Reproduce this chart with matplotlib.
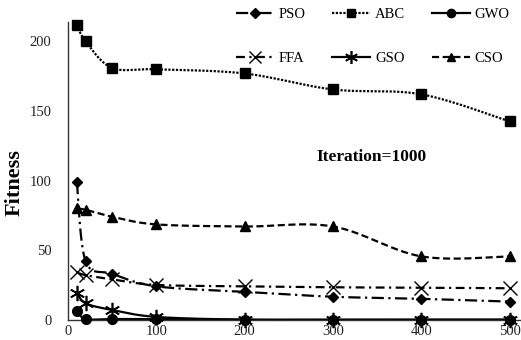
import numpy as np
import matplotlib
matplotlib.use("Agg")
import matplotlib.pyplot as plt
from matplotlib.lines import Line2D

# ---- data ----
iterations = [10, 20, 50, 100, 200, 300, 400, 500]
pso = [99, 42, 33, 24, 20, 16.5, 15, 13]
abc = [212, 200, 181, 180, 177, 165.5, 162, 142.5]
gwo = [6.5, 0.5, 0.5, 0.5, 0, 0, 0, 0]
ffa = [34, 32, 29, 25, 24, 23.3, 23, 22.6]
gso = [19.5, 11.8, 7, 2, 0, 0, 0, 0]
cso = [80, 79, 74, 68.5, 67, 67, 45.5, 45.5]
series_names = ["PSO", "ABC", "GWO", "FFA", "GSO", "CSO"]
y_ticks = [0, 50, 100, 150, 200]
x_ticks = [0, 100, 200, 300, 400, 500]
annotation = "Iteration=1000"
ylabel = "Fitness"

W, H = 521, 340
fig = plt.figure(figsize=(W / 100, H / 100), dpi=100)
ax = fig.add_axes([68 / W, 1 - 319.7 / H, (523 - 68) / W, (319.7 - 22) / H])
ax.set_xlim(0, 515)
ax.set_ylim(0, 214)

serif = "Liberation Serif"
lw = 1.6
styles = {
    "PSO": dict(ls=(0, (5.5, 2, 1, 2)), marker="D", ms=5.5),
    "ABC": dict(ls=(0, (1, 0.7)), marker="s", ms=7),
    "GWO": dict(ls="-", marker="o", ms=7),
    "FFA": dict(ls=(0, (4, 2, 1, 2)), marker="x", ms=10, mew=1.0),
    "GSO": dict(ls="-", marker=(6, 2, 0), ms=11, mew=1.2),
    "CSO": dict(ls=(0, (3.2, 1.6)), marker="^", ms=6.5),
}
data = {"PSO": pso, "ABC": abc, "GWO": gwo, "FFA": ffa, "GSO": gso, "CSO": cso}

# scale factors approximating screen space for smoothing
sx, sy = 0.884, 1.39


def smooth(xs, ys, n=30):
    P = np.column_stack([np.asarray(xs, float) * sx, np.asarray(ys, float) * sy])
    out = []
    for i in range(len(P) - 1):
        p0 = P[i - 1] if i > 0 else P[i]
        p1, p2 = P[i], P[i + 1]
        p3 = P[i + 2] if i + 2 < len(P) else P[i + 1]
        c1 = p1 + (p2 - p0) / 6
        c2 = p2 - (p3 - p1) / 6
        t = np.linspace(0, 1, n)[:, None]
        seg = (1 - t) ** 3 * p1 + 3 * (1 - t) ** 2 * t * c1 + 3 * (1 - t) * t ** 2 * c2 + t ** 3 * p2
        out.append(seg if i == 0 else seg[1:])
    S = np.vstack(out)
    return S[:, 0] / sx, S[:, 1] / sy


handles = {}
for name in series_names:
    st = styles[name]
    xs_s, ys_s = smooth(iterations, data[name])
    ax.plot(xs_s, ys_s, color="black", lw=lw, ls=st["ls"], clip_on=False, zorder=2)
    ax.plot(iterations, data[name], ls="none", marker=st["marker"], ms=st["ms"],
            mew=st.get("mew", 1.0), color="black", clip_on=False, zorder=3)
    handles[name] = Line2D([], [], color="black", lw=lw, ls=st["ls"], marker=st["marker"],
                           ms=st["ms"] * 0.85, mew=st.get("mew", 1.0), label=name)

for s in ["top", "right"]:
    ax.spines[s].set_visible(False)
for s in ["left", "bottom"]:
    ax.spines[s].set_color("#333333")
    ax.spines[s].set_linewidth(1.0)

ax.set_yticks(y_ticks)
ax.set_xticks(x_ticks)
ax.tick_params(axis="both", length=0, labelsize=10.5, colors="#222222")
ax.tick_params(axis="y", pad=12)
ax.tick_params(axis="x", pad=4)
for lab in ax.get_xticklabels() + ax.get_yticklabels():
    lab.set_fontfamily(serif)

fig.text(15 / W, 1 - 183 / H, ylabel, rotation=90, ha="center", va="center",
         fontsize=16, fontweight="bold", family=serif)
fig.text(372 / W, 1 - 157 / H, annotation, ha="center", va="center",
         fontsize=12.5, fontweight="bold", family=serif)

# legend: row 1 PSO ABC GWO, row 2 FFA GSO CSO (matplotlib fills column-wise)
order = ["PSO", "FFA", "ABC", "GSO", "GWO", "CSO"]
leg = fig.legend(handles=[handles[n] for n in order], loc="upper left",
                 bbox_to_anchor=(236 / W, 1 - 8 / H),
                 ncol=3, frameon=False, prop={"family": serif, "size": 10.5},
                 handlelength=2.6, handletextpad=0.35, columnspacing=1.8,
                 labelspacing=2.1, borderpad=0, borderaxespad=0)

fig.savefig("out.png", dpi=100)
